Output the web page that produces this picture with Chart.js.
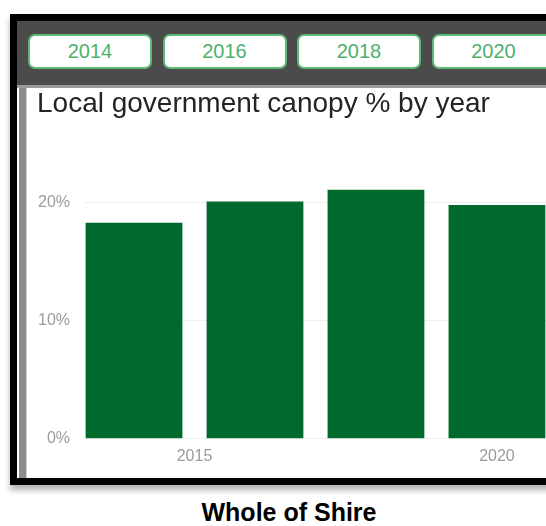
<!DOCTYPE html>
<html>
<head>
<meta charset="utf-8">
<title>Local government canopy</title>
<script src="https://cdn.jsdelivr.net/npm/chart.js@4/dist/chart.umd.min.js"></script>
<style>
    body {
        margin: 0;
        width: 546px;
        height: 526px;
        overflow: hidden;
        position: relative;
        background: #fff;
        font-family: 'Liberation Sans', Arial, sans-serif;
    }
    #frame {
        position: absolute;
        left: 10px;
        top: 14px;
        width: 640px;
        height: 471px;
        box-sizing: border-box;
        border: 7px solid #000;
        box-shadow: 0 5px 6px rgba(0, 0, 0, 0.3);
        background: #fff;
    }
    #header {
        position: absolute;
        left: 17px;
        top: 21px;
        width: 620px;
        height: 64px;
        background: #4b4b4b;
        border-bottom: 3px solid #9a9a9a;
    }
    #sideStrip {
        position: absolute;
        left: 19px;
        top: 88px;
        width: 7px;
        height: 390px;
        background: #8c8c8c;
        border-right: 1px solid #cfcfcf;
    }
    .yearButton {
        position: absolute;
        top: 34px;
        width: 124px;
        height: 35px;
        box-sizing: border-box;
        border: 2px solid #5cb877;
        border-radius: 7px;
        background: #fff;
        color: #4fb06c;
        font-size: 20px;
        line-height: 31px;
        text-align: center;
    }
    #chartBox {
        position: absolute;
        left: 27px;
        top: 89px;
    }
    #caption {
        position: absolute;
        left: 0;
        top: 497px;
        width: 578px;
        text-align: center;
        font-weight: bold;
        font-size: 25px;
        line-height: 30px;
        color: #000;
    }
</style>
</head>
<body>
<div id="frame"></div>
<div id="header"></div>
<div id="sideStrip"></div>
<div id="chartBox"><canvas id="canopyChart" width="600" height="389"></canvas></div>
<div id="caption">Whole of Shire</div>

<script>
let years = [2014, 2016, 2018, 2020];
let canopy = [18.3, 20.1, 21.1, 19.8];

let xTicks = [2015, 2020];
let yTicks = [0, 10, 20];

// year selector buttons along the top bar
for (let i = 0; i < years.length; i++) {
    let button = document.createElement('div');
    button.className = 'yearButton';
    button.style.left = (28 + i * 134.5) + 'px';
    button.textContent = years[i];
    document.body.appendChild(button);
}

function createChart() {
    let ctx = document.getElementById('canopyChart').getContext('2d');

    let points = [];
    for (let i = 0; i < years.length; i++) {
        points.push({ x: years[i], y: canopy[i] });
    }

    Chart.defaults.font.family = "'Liberation Sans', Arial, sans-serif";

    new Chart(ctx, {
        type: 'bar',
        data: {
            datasets: [{
                data: points,
                backgroundColor: '#006a2d',
                borderColor: '#2f8551',
                borderWidth: 0,
                categoryPercentage: 1,
                barPercentage: 0.8,
            }, ],
        },
        options: {
            responsive: false,
            animation: false,
            layout: {
                padding: { left: 10, right: 0, top: 0, bottom: 12 },
            },
            plugins: {
                legend: { display: false },
                tooltip: { enabled: false },
                title: {
                    display: true,
                    text: 'Local government canopy % by year',
                    align: 'start',
                    color: '#252423',
                    font: { size: 28, weight: 'normal', lineHeight: 1 },
                    padding: { top: 1, bottom: 61 },
                },
            },
            scales: {
                x: {
                    type: 'linear',
                    offset: false,
                    min: 2013.19,
                    max: 2022.15,
                    grid: { display: false },
                    border: { display: false },
                    afterBuildTicks: function (axis) {
                        axis.ticks = xTicks.map(v => ({ value: v }));
                    },
                    ticks: {
                        color: '#9b9b9b',
                        font: { size: 16 },
                        padding: 0,
                        maxRotation: 0,
                        callback: v => String(v),
                    },
                },
                y: {
                    min: 0,
                    max: 22,
                    grid: { color: '#eeeeee', drawTicks: false },
                    border: { display: false },
                    afterBuildTicks: function (axis) {
                        axis.ticks = yTicks.map(v => ({ value: v }));
                    },
                    afterFit: function (axis) {
                        axis.width = 48;
                    },
                    ticks: {
                        color: '#9b9b9b',
                        font: { size: 16 },
                        padding: 15,
                        callback: v => v + '%',
                    },
                },
            },
        },
    });
}

createChart();
</script>
</body>
</html>
